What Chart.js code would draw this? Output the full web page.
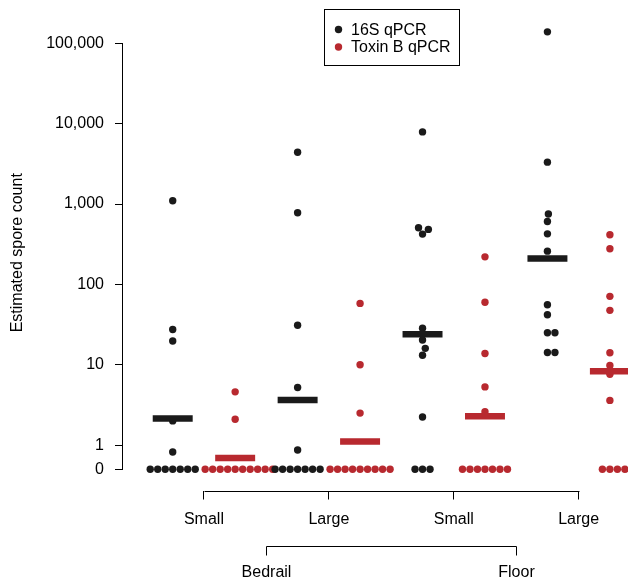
<!DOCTYPE html>
<html>
<head>
<meta charset="utf-8">
<script src="https://cdn.jsdelivr.net/npm/chart.js@4.4.1/dist/chart.umd.min.js"></script>
<style>
  html, body { margin: 0; padding: 0; background: #fff; }
  #wrap { width: 628px; height: 583px; position: relative; }
</style>
</head>
<body>
<div id="wrap"><canvas id="sporeChart"></canvas></div>
<script>
// values (0 = below detection)
const groupLabels = ['Small', 'Large', 'Small', 'Large'];
const siteLabels = ['Bedrail', 'Floor'];
const seriesNames = ['16S qPCR', 'Toxin B qPCR'];

const bedrailSmall16S = [1100, 27.5, 19.7, 2.0, 0.82, 0, 0, 0, 0, 0, 0, 0];
const bedrailSmallToxB = [4.6, 2.1, 0, 0, 0, 0, 0, 0, 0, 0, 0, 0];
const bedrailLarge16S = [4400, 780, 31, 5.2, 0.87, 0, 0, 0, 0, 0, 0, 0];
const bedrailLargeToxB = [58, 10, 2.5, 0, 0, 0, 0, 0, 0, 0, 0, 0];
const floorSmall16S = [7900, 506, 483, 422, 28.4, 20.3, 16.0, 13.1, 2.24, 0, 0, 0];
const floorSmallToxB = [220, 60, 13.8, 5.3, 2.6, 0, 0, 0, 0, 0, 0, 0];
const floorLarge16S = [138700, 3320, 750, 606, 425, 259, 55.7, 41.9, 25, 25, 14.2, 14.2];
const floorLargeToxB = [414, 277, 71, 47.5, 14.1, 9.8, 7.6, 3.6, 0, 0, 0, 0];

const median16S = [2.15, 3.64, 23.9, 210];
const medianToxB = [0.69, 1.11, 2.28, 8.3];

const tickValues = [0, 1, 10, 100, 1000, 10000, 100000];
const tickLabels = ['0', '1', '10', '100', '1,000', '10,000', '100,000'];

const BLACK = '#1a1a1a';
const RED = '#b8292f';
const FONT = '"Liberation Sans", Arial, Helvetica, sans-serif';

// log10 axis, zero drawn half a step below 1
function tr(v) {
  return v > 0 ? Math.log10(v) : Math.log10(0.5);
}

const groups16S = [bedrailSmall16S, bedrailLarge16S, floorSmall16S, floorLarge16S];
const groupsToxB = [bedrailSmallToxB, bedrailLargeToxB, floorSmallToxB, floorLargeToxB];
const shift = [-0.25, 0.25];

function pointsFor(groups, s) {
  const pts = [];
  groups.forEach(function (vals, g) {
    vals.forEach(function (v) {
      pts.push({ x: g + 1 + shift[s], y: tr(v), g: g });
    });
  });
  return pts;
}

function barsFor(meds, s) {
  const pts = [];
  meds.forEach(function (m, g) {
    const c = g + 1 + shift[s];
    pts.push({ x: c - 0.16, y: tr(m) });
    pts.push({ x: c + 0.16, y: tr(m) });
    pts.push({ x: c + 0.2, y: null });
  });
  return pts;
}

// beeswarm: place points bottom-up, nearest free spot to the centre line
function swarm(ys, d) {
  const order = ys.map(function (y, i) { return i; }).sort(function (a, b) { return ys[b] - ys[a]; });
  const placed = [];
  const out = new Array(ys.length);
  order.forEach(function (i) {
    const y = ys[i];
    const near = placed.filter(function (p) { return Math.abs(p.y - y) < d; });
    let cands = [0];
    near.forEach(function (p) {
      const dx = Math.sqrt(d * d - (p.y - y) * (p.y - y));
      cands.push(p.x + dx, p.x - dx);
    });
    cands = cands.filter(function (c) {
      return near.every(function (p) {
        return (p.x - c) * (p.x - c) + (p.y - y) * (p.y - y) >= d * d - 1e-6;
      });
    });
    cands.sort(function (a, b) { return (Math.abs(a) - Math.abs(b)) || (b - a); });
    placed.push({ x: cands[0], y: y });
    out[i] = cands[0];
  });
  return out;
}

const axisExtras = {
  id: 'axisExtras',
  afterDraw: function (chart) {
    const ctx = chart.ctx;
    const xs = chart.scales.x;
    const ys = chart.scales.y;
    const area = chart.chartArea;
    ctx.save();
    ctx.strokeStyle = '#000';
    ctx.lineWidth = 1;
    // y axis line between first and last tick
    const ax = Math.round(area.left) - 0.5;
    ctx.beginPath();
    ctx.moveTo(ax, ys.getPixelForValue(tr(100000)));
    ctx.lineTo(ax, ys.getPixelForValue(tr(0)));
    ctx.stroke();
    // x axis line
    const ay = Math.round(area.bottom) + 0.5;
    ctx.beginPath();
    ctx.moveTo(Math.round(xs.getPixelForValue(1)) + 0.5, ay);
    ctx.lineTo(Math.round(xs.getPixelForValue(4)) + 0.5, ay);
    ctx.stroke();
    // site bracket
    const by = Math.round(area.bottom + 55) + 0.5;
    const b1 = Math.round(xs.getPixelForValue(1.5)) + 0.5;
    const b2 = Math.round(xs.getPixelForValue(3.5)) + 0.5;
    ctx.beginPath();
    ctx.moveTo(b1, by + 9);
    ctx.lineTo(b1, by);
    ctx.lineTo(b2, by);
    ctx.lineTo(b2, by + 9);
    ctx.stroke();
    ctx.fillStyle = '#000';
    ctx.font = '16px ' + FONT;
    ctx.textAlign = 'center';
    ctx.textBaseline = 'middle';
    ctx.fillText(siteLabels[0], b1, area.bottom + 82);
    ctx.fillText(siteLabels[1], b2, area.bottom + 82);

    // legend box
    ctx.strokeRect(324.5, 9.5, 135, 56);
    const rows = [29.5, 47];
    [BLACK, RED].forEach(function (col, i) {
      ctx.fillStyle = col;
      ctx.beginPath();
      ctx.arc(338.5, rows[i], 3.7, 0, Math.PI * 2);
      ctx.fill();
      ctx.fillStyle = '#000';
      ctx.textAlign = 'left';
      ctx.fillText(seriesNames[i], 351, rows[i] + 1);
    });
    ctx.restore();
  }
};

const ctx = document.getElementById('sporeChart').getContext('2d');
const chart = new Chart(ctx, {
  type: 'scatter',
  data: {
    datasets: [
      {
        type: 'line', label: '16S median', data: barsFor(median16S, 0),
        borderColor: BLACK, borderWidth: 6.5, borderCapStyle: 'butt',
        pointRadius: 0, spanGaps: false, fill: false
      },
      {
        type: 'line', label: 'Toxin B median', data: barsFor(medianToxB, 1),
        borderColor: RED, borderWidth: 6.5, borderCapStyle: 'butt',
        pointRadius: 0, spanGaps: false, fill: false
      },
      {
        label: seriesNames[0], data: pointsFor(groups16S, 0),
        backgroundColor: BLACK, borderWidth: 0, pointRadius: 3.7, clip: false
      },
      {
        label: seriesNames[1], data: pointsFor(groupsToxB, 1),
        backgroundColor: RED, borderWidth: 0, pointRadius: 3.7, clip: false
      }
    ]
  },
  options: {
    responsive: true,
    maintainAspectRatio: false,
    animation: false,
    events: [],
    layout: { autoPadding: false, padding: { top: 15, left: 0, right: 0, bottom: 0 } },
    plugins: { legend: { display: false }, tooltip: { enabled: false } },
    scales: {
      x: {
        type: 'linear',
        min: 0.352,
        max: 4.395,
        afterFit: function (scale) {
          scale.height = 92.5;
          scale.paddingLeft = 0;
          scale.paddingRight = 0;
        },
        afterBuildTicks: function (scale) {
          scale.ticks = [1, 2, 3, 4].map(function (v) { return { value: v }; });
        },
        ticks: {
          autoSkip: false,
          maxRotation: 0,
          padding: 10,
          color: '#000',
          font: { family: FONT, size: 16 },
          callback: function (v) { return groupLabels[Math.round(v) - 1]; }
        },
        grid: { drawOnChartArea: false, drawTicks: true, tickLength: 9, color: '#000', lineWidth: 1 },
        border: { display: false }
      },
      y: {
        type: 'linear',
        min: -0.565,
        max: 5.352,
        bounds: 'data',
        afterFit: function (scale) {
          scale.width = 123;
          scale.paddingTop = 0;
          scale.paddingBottom = 0;
        },
        afterBuildTicks: function (scale) {
          scale.ticks = tickValues.map(function (v) { return { value: tr(v) }; });
        },
        ticks: {
          autoSkip: false,
          padding: 11,
          color: '#000',
          font: { family: FONT, size: 16 },
          callback: function (v, i) { return tickLabels[i]; }
        },
        grid: { drawOnChartArea: false, drawTicks: true, tickLength: 8, color: '#000', lineWidth: 1 },
        border: { display: false },
        title: {
          display: true,
          text: 'Estimated spore count',
          color: '#000',
          font: { family: FONT, size: 16 },
          padding: { top: 8.4, bottom: 0 }
        }
      }
    }
  },
  plugins: [axisExtras]
});

// spread the points sideways now that the scales are known
[2, 3].forEach(function (di) {
  const data = chart.data.datasets[di].data;
  [0, 1, 2, 3].forEach(function (g) {
    const pts = data.filter(function (p) { return p.g === g; });
    const py = pts.map(function (p) { return chart.scales.y.getPixelForValue(p.y); });
    const off = swarm(py, 7.5);
    pts.forEach(function (p, k) {
      const cx = chart.scales.x.getPixelForValue(p.x);
      p.x = chart.scales.x.getValueForPixel(cx + off[k]);
    });
  });
});
chart.update('none');
</script>
</body>
</html>
